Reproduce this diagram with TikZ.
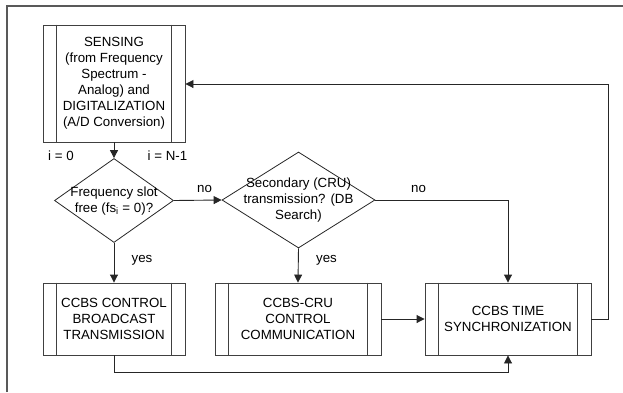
\documentclass[tikz,border=0pt]{standalone}
\usepackage{fontspec}
\setmainfont{Liberation Sans}
\usetikzlibrary{arrows.meta,shapes.geometric}
\tikzset{
  base/.style={font=\fontsize{13.3}{16}\selectfont, align=center},
  procbox/.style={draw=black!75, line width=0.9pt, base, inner sep=0pt},
  dec/.style={diamond, draw=black!85, line width=0.8pt, inner sep=0pt, aspect=1},
  lbl/.style={base, inner sep=0pt},
  conn/.style={line width=0.9pt, black!85, -{Triangle[length=8pt,width=8pt]}},
  plain/.style={line width=0.9pt, black!85},
  frame/.style={line width=1.6pt, black!65}
}
\newcommand{\sidebars}[1]{%
  \draw[draw=black!75, line width=0.9pt] ([xshift=14pt]#1.north west) -- ([xshift=14pt]#1.south west);
  \draw[draw=black!75, line width=0.9pt] ([xshift=-14pt]#1.north east) -- ([xshift=-14pt]#1.south east);}
\begin{document}
\begin{tikzpicture}[x=1pt,y=-1pt]
\useasboundingbox (0,0) rectangle (623,392);
% frame
\coordinate (fa) at (7,392);
\coordinate (fb) at (7,6);
\coordinate (fc) at (623,6);
\draw[frame] (fa) -- (fb) -- (fc);
% boxes
\node[procbox, minimum width=142pt, minimum height=117pt] (sense) at (114,83.5)
  {SENSING\\(from Frequency\\Spectrum -\\Analog) and\\DIGITALIZATION\\(A/D Conversion)};
\sidebars{sense}
\node[procbox, minimum width=142pt, minimum height=72pt] (ctrl) at (114,319)
  {CCBS CONTROL\\BROADCAST\\TRANSMISSION};
\sidebars{ctrl}
\node[procbox, minimum width=166pt, minimum height=72pt] (cru) at (298,319)
  {CCBS-CRU\\CONTROL\\COMMUNICATION};
\sidebars{cru}
\node[procbox, minimum width=166pt, minimum height=72pt] (sync) at (508,319)
  {CCBS TIME\\SYNCHRONIZATION};
\sidebars{sync}
% diamonds
\node[dec, minimum width=119pt, minimum height=84pt] (d1) at (114,200.5) {};
\node[lbl] (d1t) at (114,201) {Frequency slot\\free (fs\textsubscript{i} = 0)?};
\node[dec, minimum width=153pt, minimum height=96pt] (d2) at (298.5,200) {};
\node[lbl] (d2t) at (298.5,200) {Secondary (CRU)\\transmission? (DB\\Search)};
% labels
\node[lbl] (i0) at (61,155.5) {i = 0};
\node[lbl] (iN) at (167.5,155.5) {i = N-1};
\node[lbl] (no1) at (204.5,189) {no};
\node[lbl] (no2) at (418.5,189) {no};
\node[lbl] (yes1) at (142,260) {yes};
\node[lbl] (yes2) at (326.5,260) {yes};
% connectors
\draw[conn] (sense.south) -- (d1.north);
\draw[conn] (d1.east) -- (d2.west);
\draw[conn] (d1.south) -- (ctrl.north);
\draw[conn] (d2.south) -- (cru.north);
\draw[conn] (d2.east) -| (sync.north);
\draw[conn] (cru.east) -- (sync.west);
\coordinate (r1) at (608,319);
\coordinate (r2) at (608,84);
\draw[conn] (sync.east) -- (r1) -- (r2) -- (sense.east |- r2);
\coordinate (b1) at (114,372);
\coordinate (b2) at (508,372);
\draw[conn] (ctrl.south) -- (b1) -- (b2) -- (sync.south);
\end{tikzpicture}
\end{document}
